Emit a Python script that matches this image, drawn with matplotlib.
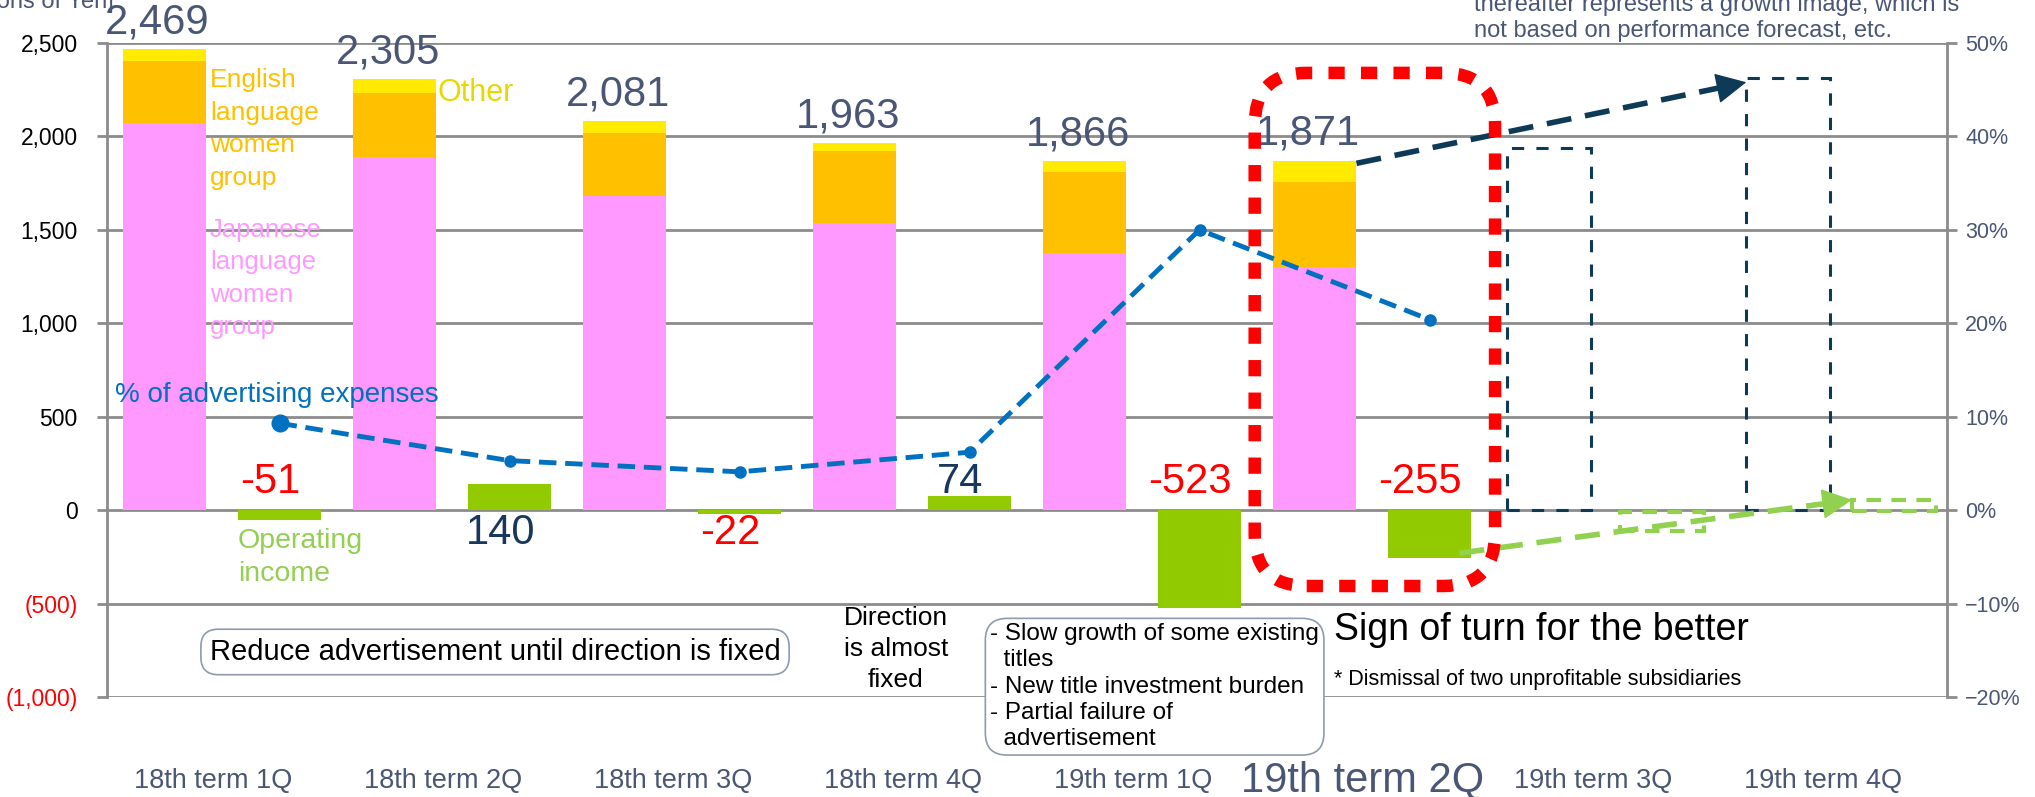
import numpy as np
import matplotlib
matplotlib.use('Agg')
import matplotlib.pyplot as plt
import matplotlib.transforms as mtransforms
from matplotlib.patches import FancyBboxPatch

plt.rcParams['font.family'] = ['Liberation Sans', 'DejaVu Sans']

# [1] data (millions of yen)
quarters = ['18th term 1Q', '18th term 2Q', '18th term 3Q', '18th term 4Q',
            '19th term 1Q', '19th term 2Q', '19th term 3Q', '19th term 4Q']
japanese = [2070, 1888, 1679, 1535, 1374, 1299]
english = [331, 347, 337, 385, 433, 455]
other = [68, 70, 65, 43, 59, 117]
totals = [2469, 2305, 2081, 1963, 1866, 1871]
op_income = [-51, 140, -22, 74, -523, -255]
op_label_side = ['above', 'below', 'below', 'above', 'above', 'above']
ad_pct = [9.3, 5.3, 4.1, 6.2, 30.0, 20.4]

# growth image (not a forecast)
growth_sales = [1940, 2315]
growth_income_top = [-10, 55]
growth_income_bottom = [-110, -5]

# [2] colours
c_pink = '#FF99FF'
c_orange = '#FFC000'
c_yellow = '#FFEA00'
c_green = '#92CA00'
c_lgreen = '#92D050'
c_navy = '#0D3A56'
c_red = '#FF0000'
c_blue = '#0070C0'
c_slate = '#4A5675'
c_grid = '#8C8C8C'

n_act = len(totals)
x = np.arange(len(quarters))
xs = x[:n_act] - 0.25
xo = x[:n_act] + 0.25
w = 0.365

fig = plt.figure(figsize=(20.35, 7.97), dpi=100)
ax = fig.add_axes([107/2035, 100/797, 1840/2035, 654/797])
ax.set_xlim(-0.5, 7.5)
ax.set_ylim(-1000, 2500)

# stacked sales + operating income
ax.bar(xs, japanese, w, color=c_pink, zorder=2)
ax.bar(xs, english, w, bottom=japanese, color=c_orange, zorder=2)
ax.bar(xs, other, w, bottom=np.add(japanese, english), color=c_yellow, zorder=2)
ax.bar(xo, op_income, w, color=c_green, zorder=2)

# growth image boxes
gx_sales = x[n_act:] + np.array([-0.23, -0.19])
gx_inc = x[n_act:] + np.array([0.26, 0.27])
ax.bar(gx_sales, growth_sales, w, fill=False, edgecolor=c_navy, lw=2.2,
       linestyle=(0, (4, 4)), zorder=3)
ax.bar(gx_inc, np.subtract(growth_income_top, growth_income_bottom), w,
       bottom=growth_income_bottom, fill=False, edgecolor=c_lgreen, lw=3,
       linestyle=(0, (3.5, 2.5)), zorder=3)

# arrows: 19th 2Q -> 19th 4Q
def dashed_arrow(p0, p1, color, lw):
    back = (p1[0] - 0.04*(p1[0]-p0[0]), p1[1] - 0.04*(p1[1]-p0[1]))
    ax.plot([p0[0], back[0]], [p0[1], back[1]], color=color, lw=lw,
            linestyle=(0, (4.5, 2.5)), zorder=4, solid_capstyle='butt')
    ax.annotate('', xy=p1, xytext=back,
                arrowprops=dict(arrowstyle='-|>,head_length=0.9,head_width=0.45',
                                fc=color, ec=color, lw=1, mutation_scale=22,
                                shrinkA=0, shrinkB=0),
                zorder=5)

dashed_arrow((xs[5] + w/2, totals[5] - 15), (gx_sales[1] - w/2, growth_sales[1] - 25), c_navy, 4)
dashed_arrow((xo[5] + 0.13, op_income[5] + 25), (gx_inc[1] - w/2, growth_income_top[1]), c_lgreen, 4)

# labels on bars
for xi, t in zip(xs, totals):
    ax.text(xi - 0.03, t + 35, f'{t:,}', ha='center', va='bottom', fontsize=30, color=c_slate)
for xi, v, side in zip(xo, op_income, op_label_side):
    y = 150 if side == 'above' else -125
    ax.text(xi - 0.04, y, f'{v}', ha='center', va='center', fontsize=30,
            color=c_red if v < 0 else '#17375E')

# series labels
ax.text(-0.052, 2040, 'English\nlanguage\nwomen\ngroup', color=c_orange, fontsize=19,
        va='center', ha='left', linespacing=1.45)
ax.text(0.935, 2235, 'Other', color='#E8D800', fontsize=22, va='center', ha='left')
ax.text(-0.052, 1240, 'Japanese\nlanguage\nwomen\ngroup', color=c_pink, fontsize=18.5,
        va='center', ha='left', linespacing=1.45)
ax.text(-0.465, 615, '% of advertising expenses', color=c_blue, fontsize=20,
        va='center', ha='left')
ax.text(0.07, -251, 'Operating\nincome', color=c_lgreen, fontsize=20.5,
        va='center', ha='left', linespacing=1.35)

# comments
ax.text(1.187, -759, 'Reduce advertisement until direction is fixed', fontsize=21,
        ha='center', va='center',
        bbox=dict(boxstyle='round,pad=0.3,rounding_size=0.6', fc='white', ec='#8E9AB0', lw=1.2))
ax.text(2.93, -743, 'Direction\nis almost\nfixed', fontsize=19, ha='center', va='center',
        linespacing=1.35)
ax.text(3.34, -945, '- Slow growth of some existing\n  titles\n- New title investment burden\n'
        '- Partial failure of\n  advertisement', fontsize=17.5, ha='left', va='center',
        linespacing=1.25,
        bbox=dict(boxstyle='round,pad=0.2,rounding_size=0.9', fc='white', ec='#8E9AB0', lw=1.2))
ax.text(4.835, -642, 'Sign of turn for the better', fontsize=27, ha='left', va='center')
ax.text(4.835, -909, '* Dismissal of two unprofitable subsidiaries', fontsize=15.5,
        ha='left', va='center')

# axes styling
ax.set_yticks(np.arange(-1000, 2501, 500))
ax.set_yticklabels([f'({-v:,})' if v < 0 else f'{v:,}' for v in ax.get_yticks()], fontsize=16.5)
for lab, v in zip(ax.get_yticklabels(), ax.get_yticks()):
    lab.set_color(c_red if v < 0 else 'black')
ax.tick_params(axis='y', length=7, width=2, color=c_grid, pad=14)
ax.set_xticks(x)
ax.set_xticklabels([])
ax.tick_params(axis='x', length=0)
xlab_tr = mtransforms.blended_transform_factory(ax.transData, ax.transAxes)
for xi, q in zip(x, quarters):
    big = q == '19th term 2Q'
    ax.text(xi - 0.04, -0.128, q, transform=xlab_tr, ha='center', va='center',
            fontsize=30 if big else 19.5, color=c_slate)
ax.grid(axis='y', color=c_grid, lw=2)
ax.set_axisbelow(True)
for s in ['top', 'bottom', 'right']:
    ax.spines[s].set_visible(False)
ax.spines['left'].set_color(c_grid)
ax.spines['left'].set_linewidth(2)

# advertising expense ratio (right axis)
ax2 = ax.twinx()
ax2.set_ylim(-20, 50)
ax2.plot(xo, ad_pct, color=c_blue, lw=3.5, linestyle=(0, (3.6, 1.8)), marker='o',
         markersize=8, zorder=5)
ax2.plot(xo[:1], ad_pct[:1], color=c_blue, marker='o', markersize=12, zorder=5)
ax2.set_yticks(np.arange(-20, 51, 10))
ax2.set_yticklabels([f'{v}%'.replace('-', '\u2212') for v in range(-20, 51, 10)],
                    fontsize=15.5, color=c_slate)
ax2.tick_params(axis='y', length=7, width=2, color=c_grid, pad=6)
for s in ['top', 'bottom', 'left']:
    ax2.spines[s].set_visible(False)
ax2.spines['right'].set_color(c_grid)
ax2.spines['right'].set_linewidth(2)

# red highlight around 19th term 2Q (drawn in pixels so corners stay round)
fig.canvas.draw()
p0 = ax.transData.transform((x[5] - 0.51, -406))
p1 = ax.transData.transform((x[5] + 0.535, 2340))
hl = FancyBboxPatch(tuple(p0), p1[0]-p0[0], p1[1]-p0[1],
                    boxstyle='round,pad=0,rounding_size=52',
                    transform=mtransforms.IdentityTransform(),
                    fill=False, ec=c_red, lw=9, linestyle=(0, (1.3, 1.3)),
                    capstyle='butt', zorder=6)
fig.add_artist(hl)

# cut-off header texts
fig.text(114/2035, 1 - 2/797, '[Millions of Yen]', ha='right', va='center',
         fontsize=17, color=c_slate)
fig.text(1474/2035, 1 - 18/797,
         'thereafter represents a growth image, which is\nnot based on performance forecast, etc.',
         ha='left', va='center', fontsize=17, color=c_slate, linespacing=1.2)

fig.savefig('out.png', dpi=100)
